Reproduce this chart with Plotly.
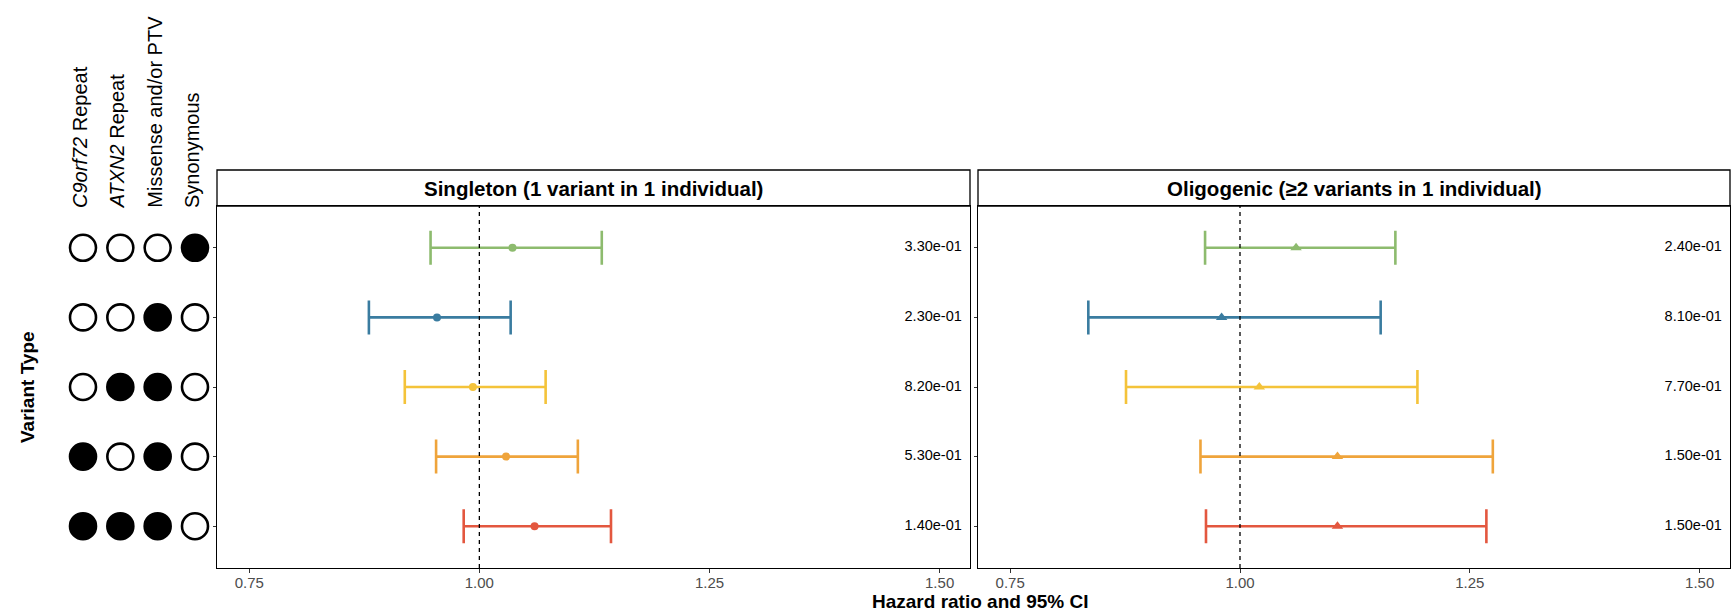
import plotly.graph_objects as go

# ---------------- data ----------------
matrix_columns = ["<i>C9orf72</i> Repeat", "<i>ATXN2</i> Repeat", "Missense and/or PTV", "Synonymous"]
# presence of each variant class for each variant-type row (top to bottom)
c9orf72_present = [0, 0, 0, 1, 1]
atxn2_present = [0, 0, 1, 0, 1]
missense_present = [0, 1, 1, 1, 1]
synonymous_present = [1, 0, 0, 0, 0]
row_colors = ["#8DBB6E", "#3A7CA0", "#F4C33A", "#EFA43B", "#E3573F"]

panel_titles = ["Singleton (1 variant in 1 individual)", "Oligogenic (\u22652 variants in 1 individual)"]

singleton_hr = [1.036, 0.954, 0.993, 1.029, 1.060]
singleton_lo = [0.947, 0.880, 0.919, 0.953, 0.983]
singleton_hi = [1.133, 1.034, 1.072, 1.107, 1.143]
singleton_p = ["3.30e-01", "2.30e-01", "8.20e-01", "5.30e-01", "1.40e-01"]

oligo_hr = [1.061, 0.980, 1.021, 1.106, 1.106]
oligo_lo = [0.962, 0.835, 0.876, 0.957, 0.963]
oligo_hi = [1.169, 1.153, 1.193, 1.275, 1.268]
oligo_p = ["2.40e-01", "8.10e-01", "7.70e-01", "1.50e-01", "1.50e-01"]

x_ticks = [0.75, 1.00, 1.25, 1.50]
x_ticktext = ["0.75", "1.00", "1.25", "1.50"]

# ---------------- layout helpers ----------------
W, H = 1733, 613
FONT = "Liberation Sans, Arial, Helvetica, sans-serif"


def fx(p):
    return p / W


def fy(p):
    return 1 - p / H


rows = list(range(1, len(singleton_hr) + 1))
PANEL_TOP, PANEL_BOT = 206, 568
STRIP_TOP = 170
Y_RANGE = [5.6, 0.4]
X_RANGE = [0.715, 1.533]
PVAL_X = 1.493

fig = go.Figure()

panels = [
    ("x", "y", singleton_hr, singleton_lo, singleton_hi, singleton_p, "circle", 8),
    ("x2", "y2", oligo_hr, oligo_lo, oligo_hi, oligo_p, "triangle-up", 10),
]

for xa, ya, hr, lo, hi, pv, sym, msize in panels:
    for i, r in enumerate(rows):
        fig.add_trace(go.Scatter(
            x=[hr[i]], y=[r], xaxis=xa, yaxis=ya, mode="markers",
            marker=dict(symbol=sym, size=msize, color=row_colors[i]),
            error_x=dict(type="data", symmetric=False,
                         array=[hi[i] - hr[i]], arrayminus=[hr[i] - lo[i]],
                         color=row_colors[i], thickness=2.6, width=17),
            showlegend=False, hoverinfo="skip"))
    fig.add_trace(go.Scatter(
        x=[PVAL_X] * len(rows), y=rows, xaxis=xa, yaxis=ya, mode="text",
        text=pv, textposition="middle center",
        textfont=dict(family=FONT, size=14.5, color="black"),
        showlegend=False, hoverinfo="skip"))

# dot matrix
presence_cols = [c9orf72_present, atxn2_present, missense_present, synonymous_present]
for j, col in enumerate(presence_cols):
    fig.add_trace(go.Scatter(
        x=[j + 1] * len(rows), y=rows, xaxis="x3", yaxis="y3", mode="markers",
        marker=dict(symbol="circle", size=26,
                    color=["black" if v else "white" for v in col],
                    line=dict(color="black", width=2.6)),
        showlegend=False, hoverinfo="skip"))

axis_common = dict(range=X_RANGE, tickvals=x_ticks, ticktext=x_ticktext,
                   ticks="outside", ticklen=4, tickwidth=1.2, tickcolor="#333333",
                   ticklabelstandoff=-3,
                   showline=True, mirror=True, linecolor="black", linewidth=1.3,
                   showgrid=False, zeroline=False,
                   tickfont=dict(family=FONT, size=15, color="#4D4D4D"))
yaxis_common = dict(range=Y_RANGE, tickvals=rows, ticktext=[""] * len(rows),
                    ticks="outside", ticklen=3, tickwidth=1.2, tickcolor="#333333",
                    showline=True, mirror=True, linecolor="black", linewidth=1.3,
                    showgrid=False, zeroline=False,
                    domain=[fy(PANEL_BOT), fy(PANEL_TOP)])

left_dom = [fx(217), fx(970)]
right_dom = [fx(978), fx(1730)]

fig.update_layout(
    width=W, height=H, margin=dict(l=0, r=0, t=0, b=0),
    paper_bgcolor="white", plot_bgcolor="white",
    font=dict(family=FONT, color="black"),
    xaxis=dict(domain=left_dom, anchor="y", **axis_common),
    yaxis=dict(anchor="x", **yaxis_common),
    xaxis2=dict(domain=right_dom, anchor="y2", **axis_common),
    yaxis2=dict(anchor="x2", **yaxis_common),
    xaxis3=dict(domain=[fx(60), fx(215)], range=[0.384, 4.536], visible=False, anchor="y3"),
    yaxis3=dict(domain=[fy(PANEL_BOT), fy(PANEL_TOP)], range=Y_RANGE, visible=False, anchor="x3"),
)

shapes = []
annotations = []
for xa, dom, title in [("x", left_dom, panel_titles[0]), ("x2", right_dom, panel_titles[1])]:
    shapes.append(dict(type="line", xref=xa, yref=f"{'y' if xa == 'x' else 'y2'} domain",
                       x0=1, x1=1, y0=0, y1=1,
                       line=dict(color="black", width=1.3, dash="4px,4px")))
    shapes.append(dict(type="rect", xref="paper", yref="paper",
                       x0=dom[0], x1=dom[1], y0=fy(PANEL_TOP), y1=fy(STRIP_TOP),
                       line=dict(color="black", width=1.3), fillcolor="white", layer="below"))
    annotations.append(dict(text=f"<b>{title}</b>", xref="paper", yref="paper",
                            x=(dom[0] + dom[1]) / 2, y=fy((PANEL_TOP + STRIP_TOP) / 2),
                            xanchor="center", yanchor="middle", showarrow=False,
                            font=dict(family=FONT, size=20.5, color="black")))

for j, label in enumerate(matrix_columns):
    annotations.append(dict(text=label, xref="x3", yref="paper", x=j + 1 - 0.08, y=fy(210),
                            xanchor="center", yanchor="bottom", textangle=-90, showarrow=False,
                            font=dict(family=FONT, size=20, color="black")))

annotations.append(dict(text="<b>Variant Type</b>", xref="paper", yref="y3", x=fx(27), y=3,
                        xanchor="center", yanchor="middle", textangle=-90, showarrow=False,
                        font=dict(family=FONT, size=19, color="black")))
annotations.append(dict(text="<b>Hazard ratio and 95% CI</b>", xref="paper", yref="paper",
                        x=fx(980), y=fy(601), xanchor="center", yanchor="middle", showarrow=False,
                        font=dict(family=FONT, size=19, color="black")))

fig.update_layout(shapes=shapes, annotations=annotations)
fig.write_html("out.html", config={"displayModeBar": False},
               post_script="document.body.style.margin='0';document.body.style.overflow='hidden';")
